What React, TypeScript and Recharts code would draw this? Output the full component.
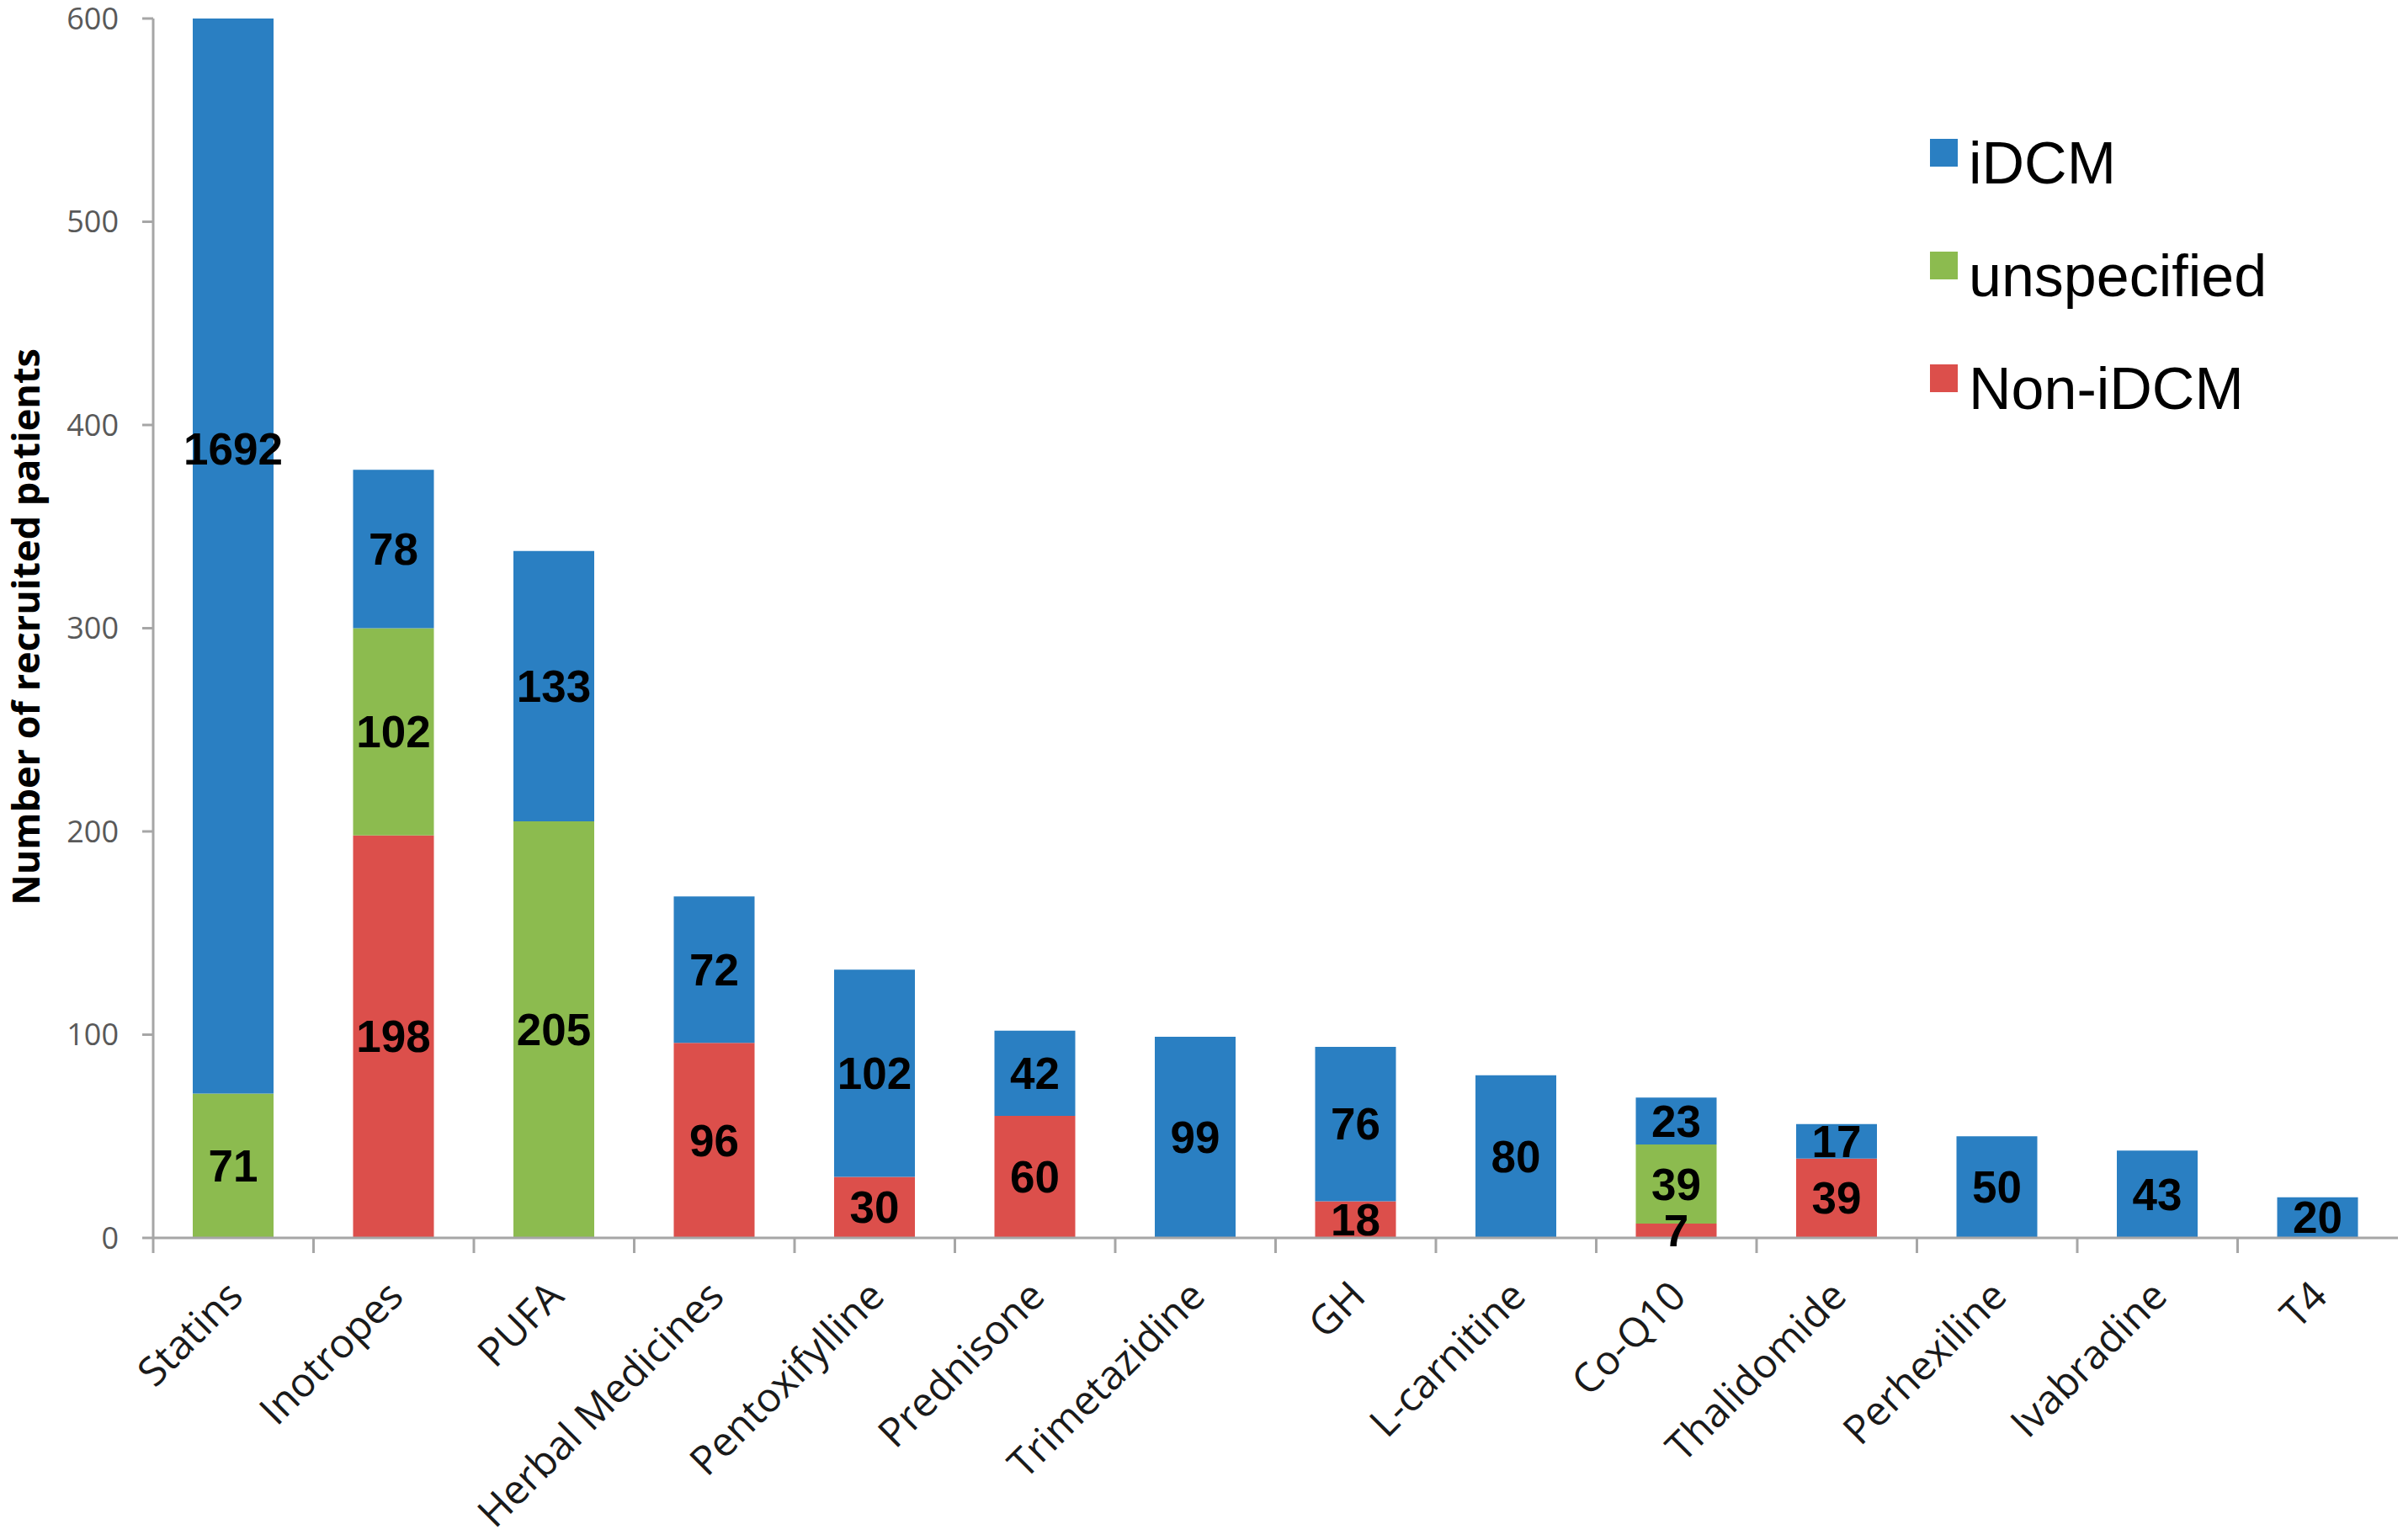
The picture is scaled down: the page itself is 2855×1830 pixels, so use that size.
import React from 'react';
import { BarChart, Bar, XAxis, YAxis, Legend, LabelList, Label } from 'recharts';

const categories = [
  'Statins', 'Inotropes', 'PUFA', 'Herbal Medicines', 'Pentoxifylline', 'Prednisone',
  'Trimetazidine', 'GH', 'L-carnitine', 'Co-Q10', 'Thalidomide', 'Perhexiline', 'Ivabradine', 'T4',
];
const nonIdcm = [null, 198, null, 96, 30, 60, null, 18, null, 7, 39, null, null, null];
const unspecified = [71, 102, 205, null, null, null, null, null, null, 39, null, null, null, null];
const idcm = [1692, 78, 133, 72, 102, 42, 99, 76, 80, 23, 17, 50, 43, 20];
const yTicks = [0, 100, 200, 300, 400, 500, 600];

const seriesKeys = ['nonIdcm', 'unspecified', 'idcm'];
const seriesNames: Record<string, string> = { nonIdcm: 'Non-iDCM', unspecified: 'unspecified', idcm: 'iDCM' };
const legendOrder = ['idcm', 'unspecified', 'nonIdcm'];
const COLORS: Record<string, string> = { idcm: '#2A7FC2', unspecified: '#8CBB4F', nonIdcm: '#DC4F4B' };

const data = categories.map((name, i) => ({
  name,
  nonIdcm: nonIdcm[i],
  unspecified: unspecified[i],
  idcm: idcm[i],
}));

const W = 2855;
const H = 1830;
const PLOT_TOP = 22;
const AXIS_COLOR = '#A6A6A6';

const ValueLabel = (props: any) => {
  const { x, y, width, height, value } = props;
  if (value == null || value === 0) return null;
  const nx = Number(x), ny = Number(y), nw = Number(width), nh = Number(height);
  const top = Math.min(ny, ny + nh);
  const bottom = Math.max(ny, ny + nh);
  let cy;
  if (top <= PLOT_TOP + 0.5) {
    // segment reaches past the axis maximum: label sits in the upper part of the visible bar
    cy = top + (bottom - top) * 0.4;
  } else {
    cy = (top + bottom) / 2;
  }
  return (
    <text
      x={nx + nw / 2}
      y={cy}
      textAnchor="middle"
      dominantBaseline="central"
      fontFamily="'Liberation Sans', Arial, sans-serif"
      fontWeight="bold"
      fontSize={53}
      fill="#000"
    >
      {value}
    </text>
  );
};

const CatTick = (props: any) => {
  const { x, y, payload } = props;
  const half = payload && typeof payload.offset === 'number' && payload.offset > 0 ? payload.offset : 95.25;
  return (
    <g>
      <line x1={x - half} x2={x - half} y1={y} y2={y + 18} stroke={AXIS_COLOR} strokeWidth={3} />
      <text
        transform={`translate(${x + 14},${y + 72}) rotate(-45)`}
        textAnchor="end"
        fontFamily="'Open Sans', sans-serif"
        fontSize={48}
        fill="#1a1a1a"
      >
        {payload.value}
      </text>
    </g>
  );
};

const LegendContent = () => (
  <svg width={560} height={460} style={{ overflow: 'visible' }}>
    {legendOrder.map((k, i) => (
      <g key={k}>
        <rect x={0} y={20 + i * 134} width={33} height={33} fill={COLORS[k]} />
        <text
          x={46}
          y={20 + i * 134 + 53}
          fontFamily="'Liberation Sans', Arial, sans-serif"
          fontSize={70}
          fill="#000"
        >
          {seriesNames[k]}
        </text>
      </g>
    ))}
  </svg>
);

const YLabel = () => (
  <text
    transform="translate(47,745) rotate(-90)"
    textAnchor="middle"
    fontFamily="'Open Sans', sans-serif"
    fontWeight="bold"
    fontSize={45}
    fill="#000"
  >
    Number of recruited patients
  </text>
);

export default function App() {
  return (
    <div style={{ position: 'absolute', left: 0, top: 0, width: W, height: H, background: '#fff' }}>
      <BarChart
        width={W}
        height={H}
        data={data}
        margin={{ top: PLOT_TOP, right: 6, bottom: 0, left: 0 }}
        barSize={96}
      >
        <XAxis
          dataKey="name"
          height={359}
          interval={0}
          tickLine={false}
          tickSize={0}
          tickMargin={0}
          axisLine={{ stroke: AXIS_COLOR, strokeWidth: 3 }}
          tick={<CatTick />}
        />
        <YAxis
          width={182}
          domain={[0, 600]}
          ticks={yTicks}
          allowDataOverflow
          tickSize={13}
          tickMargin={28}
          axisLine={{ stroke: AXIS_COLOR, strokeWidth: 3 }}
          tickLine={{ stroke: AXIS_COLOR, strokeWidth: 3 }}
          tick={{ fill: '#595959', fontSize: 36, fontFamily: "'Open Sans', sans-serif" }}
          label={<Label content={<YLabel />} />}
        />
        <Legend
          layout="vertical"
          align="center"
          verticalAlign="middle"
          content={<LegendContent />}
          wrapperStyle={{ left: 2293, top: 145, width: 560, height: 460 }}
        />
        {seriesKeys.map((k) => (
          <Bar key={k} dataKey={k} name={seriesNames[k]} stackId="a" fill={COLORS[k]} isAnimationActive={false}>
            <LabelList dataKey={k} content={<ValueLabel />} />
          </Bar>
        ))}
      </BarChart>
    </div>
  );
}
